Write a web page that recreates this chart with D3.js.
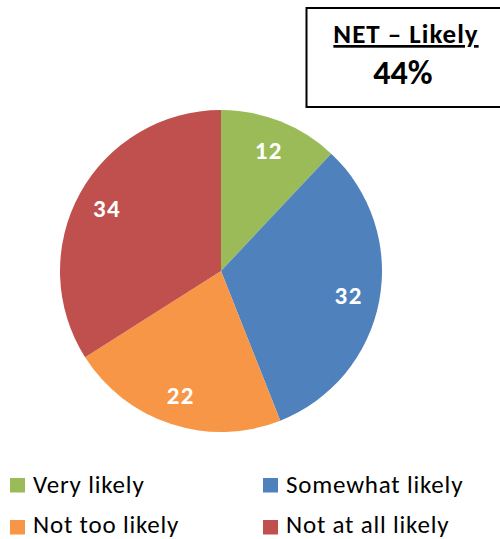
<!DOCTYPE html>
<html><head><meta charset="utf-8">
<script src="https://cdn.jsdelivr.net/npm/d3@7"></script>
<style>
html,body{margin:0;padding:0;background:#fff;}
text{font-family:Carlito,Lato,"Open Sans",sans-serif;}
</style></head>
<body><svg id="c" width="500" height="539"></svg>
<script>
const categories = ["Very likely","Somewhat likely","Not too likely","Not at all likely"];
const values = [12, 32, 22, 34];
const colors = ["#9BBB59","#4F81BD","#F79646","#C0504D"];
const netLabel = "NET – Likely";
const netValue = "44%";

const svg = d3.select("#c");
const cx = 221, cy = 271, R = 161, labelR = 130;
const pie = d3.pie().sort(null).value(d => d)(values);
const arc = d3.arc().innerRadius(0).outerRadius(R);
const labelArc = d3.arc().innerRadius(labelR).outerRadius(labelR);
const g = svg.append("g").attr("transform", `translate(${cx},${cy})`);
g.selectAll("path").data(pie).join("path")
  .attr("d", arc).attr("fill", (d,i) => colors[i]);
g.selectAll("text").data(pie).join("text")
  .attr("transform", d => `translate(${labelArc.centroid(d)})`)
  .attr("text-anchor","middle").attr("dy","0.36em")
  .attr("fill","#fff").attr("font-weight","bold").attr("font-size",25)
  .attr("letter-spacing",1.5)
  .text(d => d.data);

// NET box
svg.append("rect").attr("x",306.5).attr("y",8).attr("width",220).attr("height",99)
  .attr("fill","#fff").attr("stroke","#000").attr("stroke-width",2);
svg.append("text").attr("x",406).attr("y",43).attr("text-anchor","middle")
  .attr("font-weight","bold").attr("font-size",27).attr("letter-spacing",1)
  .attr("text-decoration","underline")
  .text(netLabel);
svg.append("text").attr("x",403).attr("y",84).attr("text-anchor","middle")
  .attr("font-weight","bold").attr("font-size",34)
  .text(netValue);

// legend
const lx = [10, 263], ly = [478, 520];
const leg = svg.selectAll("g.leg").data(categories).join("g").attr("class","leg")
  .attr("transform",(d,i)=>`translate(${lx[i%2]},${ly[Math.floor(i/2)]})`);
leg.append("rect").attr("width",15).attr("height",14.5).attr("fill",(d,i)=>colors[i]);
leg.append("text").attr("x",23).attr("y",(d,i)=> i < 2 ? 15 : 13).attr("font-size",25).attr("letter-spacing",0.8)
  .attr("fill","#000").text(d=>d);
</script></body></html>
